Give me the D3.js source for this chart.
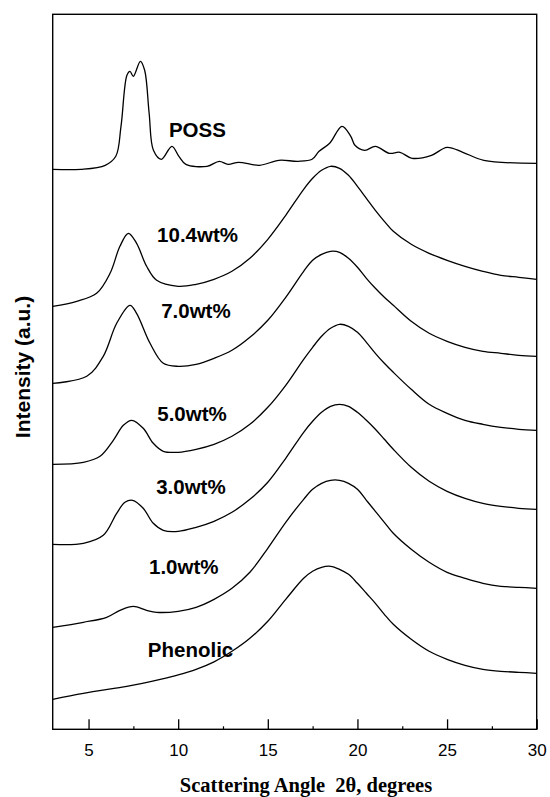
<!DOCTYPE html>
<html>
<head>
<meta charset="utf-8">
<script src="https://cdn.jsdelivr.net/npm/d3@7"></script>
<style>
  html, body { margin: 0; padding: 0; background: #fff; }
  svg { display: block; }
</style>
</head>
<body>
<svg id="chart" width="550" height="797"></svg>
<script>
// ---- data: 2θ (degrees) vs stacked intensity (a.u.) ----
const seriesNames = ["POSS", "10.4wt%", "7.0wt%", "5.0wt%", "3.0wt%", "1.0wt%", "Phenolic"];

const possData = [
  [3.00,560],[4.57,560],[5.93,564],[6.52,573],[6.81,603],[7.14,654],[7.31,658],[7.50,653],
  [7.89,668],[8.13,659],[8.38,616],[8.62,579],[9.06,570],[9.65,583],[10.04,573],[10.43,565],
  [11.61,563],[12.29,568],[12.78,565],[13.37,567],[14.54,564],[15.62,569],[16.69,568],[17.47,570],
  [17.86,578],[18.45,586],[19.14,603],[19.63,593],[19.86,584],[20.41,579],[21.00,583],[21.78,576],
  [22.37,577],[23.05,571],[24.13,574],[25.00,582],[25.88,577],[27.05,569],[30.00,566]
];
const wt104Data = [
  [3.00,423],[4.34,428],[5.45,436],[6.20,456],[6.75,483],[7.22,496],[7.68,486],[8.24,463],
  [8.80,449],[10.0,443],[11.0,445],[12.0,450],[13.0,458],[14.0,471],[15.0,490],[16.0,514],
  [17.0,540],[17.5,551],[18.0,559],[18.5,563],[19.0,561],[19.5,554],[20.0,543],[20.5,531],
  [21.0,519],[21.5,508],[22.0,498],[23.0,485],[24.0,476],[25.0,469],[26.0,463],[27.0,458],
  [28.0,454],[29.0,452],[30.0,450]
];
const wt70Data = [
  [3.00,346],[4.90,353],[5.82,373],[6.57,406],[7.31,424],[7.68,416],[8.43,386],[9.17,366],
  [10.0,363],[11.0,365],[12.0,371],[13.0,379],[14.0,392],[15.0,409],[16.0,432],[17.0,458],
  [17.5,469],[18.0,475],[18.5,478],[19.0,477],[19.5,471],[20.0,462],[20.5,451],[21.0,441],
  [21.5,432],[22.0,424],[23.0,408],[24.0,396],[25.0,388],[26.0,382],[27.0,378],[28.0,376],
  [29.0,374],[30.0,373]
];
const wt50Data = [
  [3.00,265],[4.71,267],[5.64,273],[6.38,289],[6.94,304],[7.41,309],[8.05,301],[8.61,286],
  [9.17,278],[10.0,277],[11.0,280],[12.0,285],[13.0,293],[14.0,305],[15.0,322],[16.0,344],
  [17.0,370],[17.5,382],[18.0,393],[18.5,401],[19.0,405],[19.5,403],[20.0,397],[20.5,387],
  [21.0,376],[21.5,366],[22.0,357],[23.0,340],[24.0,325],[25.0,316],[26.0,309],[27.0,305],
  [28.0,302],[29.0,300],[30.0,299]
];
const wt30Data = [
  [3.00,185],[4.71,186],[5.82,194],[6.57,216],[7.03,227],[7.46,229],[8.05,221],[8.61,206],
  [9.17,199],[10.0,198],[11.0,202],[12.0,208],[13.0,217],[14.0,230],[15.0,247],[16.0,271],
  [17.0,297],[17.5,308],[18.0,317],[18.5,323],[19.0,325],[19.5,323],[20.0,317],[20.5,309],
  [21.0,300],[21.5,290],[22.0,280],[23.0,262],[24.0,248],[25.0,238],[26.0,231],[27.0,226],
  [28.0,223],[29.0,221],[30.0,220]
];
const wt10Data = [
  [3.00,102],[4.71,107],[6.01,112],[6.75,119],[7.50,123],[8.24,119],[8.80,117],[10.0,118],
  [11.0,122],[12.0,130],[13.0,141],[14.0,157],[15.0,181],[16.0,207],[17.0,230],[17.5,240],
  [18.0,246],[18.5,249],[19.0,249],[19.5,246],[20.0,240],[20.5,229],[21.0,218],[21.5,207],
  [22.0,196],[23.0,180],[24.0,167],[25.0,157],[26.0,151],[27.0,146],[28.0,143],[29.0,142],
  [30.0,141]
];
const phenolicData = [
  [3.00,30],[4.71,36],[7.13,43],[8.0,46],[9.0,50],[10.0,54.5],[11.0,60],[12.0,67.5],[13.0,78],
  [14.0,91],[15.0,108],[16.0,130],[17.0,151],[17.5,158],[18.0,162],[18.5,163],[19.0,160],
  [19.5,155],[20.0,146],[20.5,136],[21.0,126],[21.5,115],[22.0,105],[23.0,90],[24.0,78],
  [25.0,70],[26.0,64],[27.0,60],[28.0,58],[29.0,57],[30.0,56]
];
const seriesData = [possData, wt104Data, wt70Data, wt50Data, wt30Data, wt10Data, phenolicData];

// label anchor positions (2θ, intensity) for each series name
const labelX = [11.07, 11.08, 10.99, 10.77, 10.71, 10.31, 10.69];
const labelY = [592.6, 487.6, 411.3, 308.6, 235.3, 155.3, 72.0];

const xTickValues = [5, 10, 15, 20, 25, 30];
const xMinorTicks = [7.5, 12.5, 17.5, 22.5, 27.5];
const xTitle = "Scattering Angle  2θ, degrees";
const yTitle = "Intensity (a.u.)";

// ---- layout ----
const svg = d3.select("#chart");
const mLeft = 52.7, mRight = 536.7, mTop = 14.3, mBottom = 729.3;

const x = d3.scaleLinear().domain([3, 30]).range([mLeft, mRight]);
const y = d3.scaleLinear().domain([0, 715]).range([mBottom, mTop]);

// frame
svg.append("rect")
  .attr("x", mLeft).attr("y", mTop)
  .attr("width", mRight - mLeft).attr("height", mBottom - mTop)
  .attr("fill", "none").attr("stroke", "#000").attr("stroke-width", 1.4);

// curves
const line = d3.line()
  .x(d => x(d[0])).y(d => y(d[1]))
  .curve(d3.curveCatmullRom.alpha(0.5));

svg.append("g").selectAll("path")
  .data(seriesData)
  .join("path")
  .attr("d", line)
  .attr("fill", "none")
  .attr("stroke", "#000")
  .attr("stroke-width", 1.3);

// series labels
svg.append("g").selectAll("text")
  .data(seriesNames)
  .join("text")
  .attr("x", (d, i) => x(labelX[i]))
  .attr("y", (d, i) => y(labelY[i]))
  .attr("text-anchor", "middle")
  .attr("font-family", "Liberation Sans, Arial, sans-serif")
  .attr("font-weight", "bold")
  .attr("font-size", 20.5)
  .attr("fill", "#000")
  .text(d => d);

// x axis (inward ticks)
const xAxis = d3.axisBottom(x)
  .tickValues(xTickValues)
  .tickFormat(d3.format("d"))
  .tickSizeInner(-10)
  .tickSizeOuter(0)
  .tickPadding(15);
const gx = svg.append("g")
  .attr("transform", `translate(0,${mBottom})`)
  .call(xAxis);
gx.select(".domain").remove();
gx.selectAll(".tick line").attr("stroke", "#000").attr("stroke-width", 1.3);
gx.selectAll(".tick text")
  .attr("font-family", "Liberation Sans, Arial, sans-serif")
  .attr("font-size", 17)
  .attr("fill", "#000");

const gxMinor = svg.append("g")
  .attr("transform", `translate(0,${mBottom})`)
  .call(d3.axisBottom(x).tickValues(xMinorTicks).tickSizeInner(-3).tickSizeOuter(0).tickFormat(""));
gxMinor.select(".domain").remove();
gxMinor.selectAll(".tick line").attr("stroke", "#000").attr("stroke-width", 1.2);

// axis titles
svg.append("text")
  .attr("x", 306).attr("y", 792)
  .attr("text-anchor", "middle")
  .attr("font-family", "Liberation Serif, Times New Roman, serif")
  .attr("font-weight", "bold")
  .attr("font-size", 20.5)
  .style("white-space", "pre")
  .attr("fill", "#000")
  .text(xTitle);

svg.append("text")
  .attr("transform", "translate(30,367) rotate(-90)")
  .attr("text-anchor", "middle")
  .attr("font-family", "Liberation Sans, Arial, sans-serif")
  .attr("font-weight", "bold")
  .attr("font-size", 21)
  .attr("fill", "#000")
  .text(yTitle);
</script>
</body>
</html>
